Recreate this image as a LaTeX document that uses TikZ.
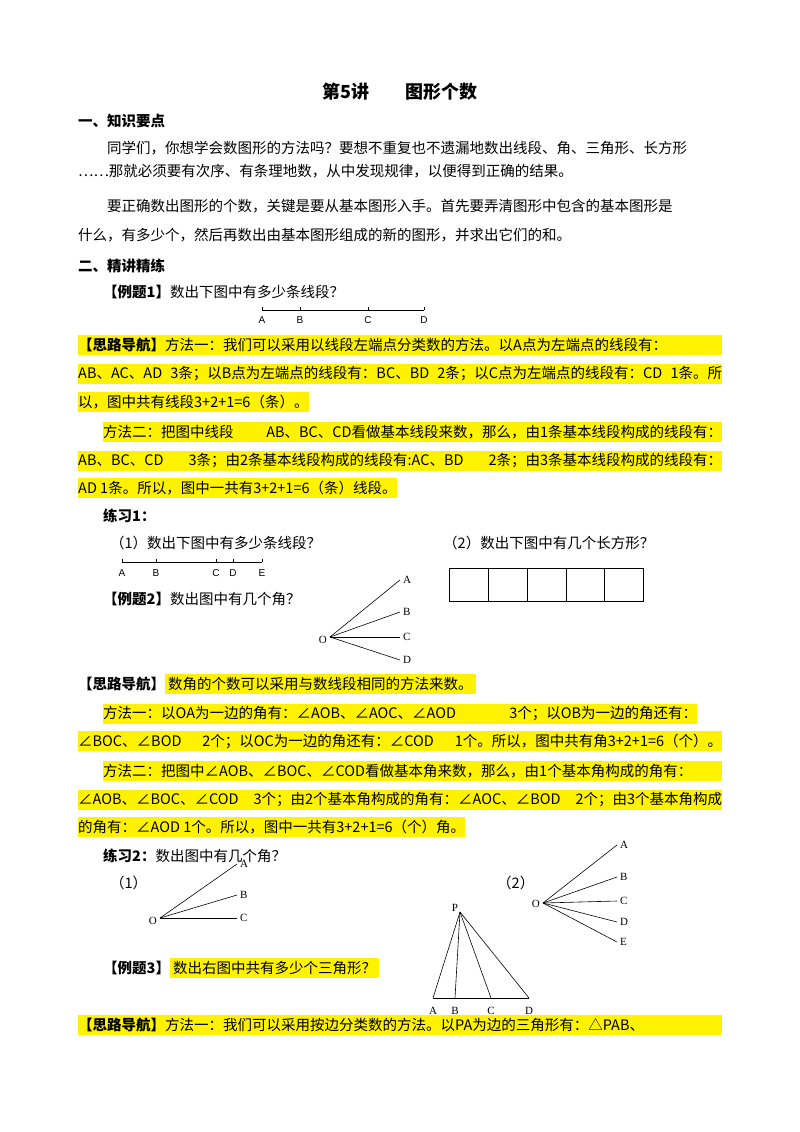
\documentclass[tikz,border=0pt]{standalone}
\usepackage{fontspec}
\setmainfont{Noto Sans CJK SC}
\newfontfamily\lsans{Liberation Sans}
\newfontfamily\lserif{Liberation Serif}
\XeTeXlinebreaklocale "zh"
\XeTeXlinebreakskip=0pt plus 1fil
\begin{document}
\begin{tikzpicture}[x=1pt,y=-1pt,
  tx/.style={anchor=west,inner sep=0pt,font=\fontsize{14.5}{16}\selectfont},
  hl/.style={tx,fill=yellow,inner ysep=3pt},
  lab/.style={inner sep=1pt,font=\lsans\fontsize{10}{12}\selectfont},
  slab/.style={inner sep=1pt,font=\lserif\fontsize{11}{12}\selectfont},
  ln/.style={line width=0.6pt}]
\useasboundingbox[fill=white] (0,0) rectangle (800,1132);
\newcommand{\full}[1]{\makebox[644pt][s]{#1}}
\node[tx,font=\bfseries\fontsize{18}{20}\selectfont,anchor=center] (title) at (400,92) {第5讲\hspace{2em}图形个数};
\node[tx,font=\bfseries\fontsize{14.5}{16}\selectfont] (h1) at (78,121) {一、知识要点};
\node[tx] (p1) at (107,148) {\makebox[615pt][s]{同学们，你想学会数图形的方法吗？要想不重复也不遗漏地数出线段、角、三角形、长方形}};
\node[tx] (p2) at (78,171) {……那就必须要有次序、有条理地数，从中发现规律，以便得到正确的结果。};
\node[tx] (p3) at (107,206) {\makebox[615pt][s]{要正确数出图形的个数，关键是要从基本图形入手。首先要弄清图形中包含的基本图形是}};
\node[tx] (p4) at (78,235) {什么，有多少个，然后再数出由基本图形组成的新的图形，并求出它们的和。};
\node[tx,font=\bfseries\fontsize{14.5}{16}\selectfont] (h2) at (78,266) {二、精讲精练};
\node[tx] (e1) at (103,292) {{\bfseries【例题1】}数出下图中有多少条线段？};
\draw[ln] (262,310) -- (424,310);
\foreach \x/\n in {262/A,300/B,368/C,424/D}{\draw[ln] (\x,307) -- (\x,310); \node[lab] (s1\n) at (\x,320) {\n};}
\node[hl] (l1) at (78,345) {\full{{\bfseries【思路导航】}方法一：我们可以采用以线段左端点分类数的方法。以A点为左端点的线段有：}};
\node[hl] (l2) at (78,374) {\full{AB、AC、AD 3条；以B点为左端点的线段有：BC、BD 2条；以C点为左端点的线段有：CD 1条。所}};
\node[hl] (l3) at (78,402) {以，图中共有线段3+2+1=6（条）。};
\node[hl] (l4) at (103,432) {\makebox[619pt][s]{方法二：把图中线段 AB、BC、CD看做基本线段来数，那么，由1条基本线段构成的线段有：}};
\node[hl] (l5) at (78,461) {\full{AB、BC、CD 3条；由2条基本线段构成的线段有:AC、BD 2条；由3条基本线段构成的线段有：}};
\node[hl] (l6) at (78,488) {AD 1条。所以，图中一共有3+2+1=6（条）线段。};
\node[tx,font=\bfseries\fontsize{14.5}{16}\selectfont] (x1) at (103,516) {练习1：};
\node[tx] (x1a) at (110,543) {（1）数出下图中有多少条线段？};
\node[tx] (x1b) at (443,543) {（2）数出下图中有几个长方形？};
\draw[ln] (122,562) -- (262,562);
\foreach \x/\n in {122/A,156/B,216/C,233/D,262/E}{\draw[ln] (\x,559) -- (\x,562); \node[lab] (s2\n) at (\x,573) {\n};}
\draw[line width=1pt] (449,568) rectangle (643,601);
\foreach \x in {488,527,566,604}{\draw[line width=1pt] (\x,568) -- (\x,601);}
\node[tx] (e2) at (103,599) {{\bfseries【例题2】}数出图中有几个角？};
\coordinate (O1) at (330,637);
\foreach \y/\n in {580/A,612/B,637/C,660/D}{\coordinate (a\n) at (400,\y); \draw[ln] (O1) -- (a\n); \node[slab,anchor=west] (la\n) at (402,\y) {\n};}
\node[slab,anchor=east] (lO1) at (328,640) {O};
\node[tx] (m0) at (78,684) {{\bfseries【思路导航】}\colorbox{yellow}{数角的个数可以采用与数线段相同的方法来数。}};
\node[hl] (m1) at (103,714) {\makebox[594pt][s]{方法一：以OA为一边的角有：∠AOB、∠AOC、∠AOD 3个；以OB为一边的角还有：}};
\node[hl] (m2) at (78,741) {\full{∠BOC、∠BOD 2个；以OC为一边的角还有：∠COD 1个。所以，图中共有角3+2+1=6（个）。}};
\node[hl] (m3) at (103,771) {\makebox[619pt][s]{方法二：把图中∠AOB、∠BOC、∠COD看做基本角来数，那么，由1个基本角构成的角有：}};
\node[hl] (m4) at (78,800) {\full{∠AOB、∠BOC、∠COD 3个；由2个基本角构成的角有：∠AOC、∠BOD 2个；由3个基本角构成}};
\node[hl] (m5) at (78,827) {的角有：∠AOD 1个。所以，图中一共有3+2+1=6（个）角。};
\node[tx] (x2) at (103,856) {{\bfseries 练习2：}数出图中有几个角？};
\node[tx] (x2a) at (110,883) {（1）};
\node[tx] (x2b) at (497,883) {（2）};
\coordinate (O2) at (160,918);
\foreach \y/\n in {864/A,895/B,918/C}{\coordinate (b\n) at (237,\y); \draw[ln] (O2) -- (b\n); \node[slab,anchor=west] (lb\n) at (239,\y) {\n};}
\node[slab,anchor=east] (lO2) at (158,921) {O};
\coordinate (O3) at (543,903);
\foreach \y/\n in {845/A,877/B,901/C,922/D,942/E}{\coordinate (c\n) at (617,\y); \draw[ln] (O3) -- (c\n); \node[slab,anchor=west] (lc\n) at (619,\y) {\n};}
\node[slab,anchor=east] (lO3) at (541,904) {O};
\coordinate (P) at (460,912);
\foreach \x/\n in {433/A,455/B,491/C,529/D}{\coordinate (t\n) at (\x,998); \draw[ln] (P) -- (t\n); \node[slab] (lt\n) at (\x,1011) {\n};}
\draw[ln] (tA) -- (tD);
\node[slab] (lP) at (455,908) {P};
\node[tx] (e3) at (103,968) {{\bfseries【例题3】}\colorbox{yellow}{数出右图中共有多少个三角形？}};
\node[hl] (n1) at (78,1025) {\full{{\bfseries【思路导航】}方法一：我们可以采用按边分类数的方法。以PA为边的三角形有：△PAB、}};
\end{tikzpicture}
\end{document}
